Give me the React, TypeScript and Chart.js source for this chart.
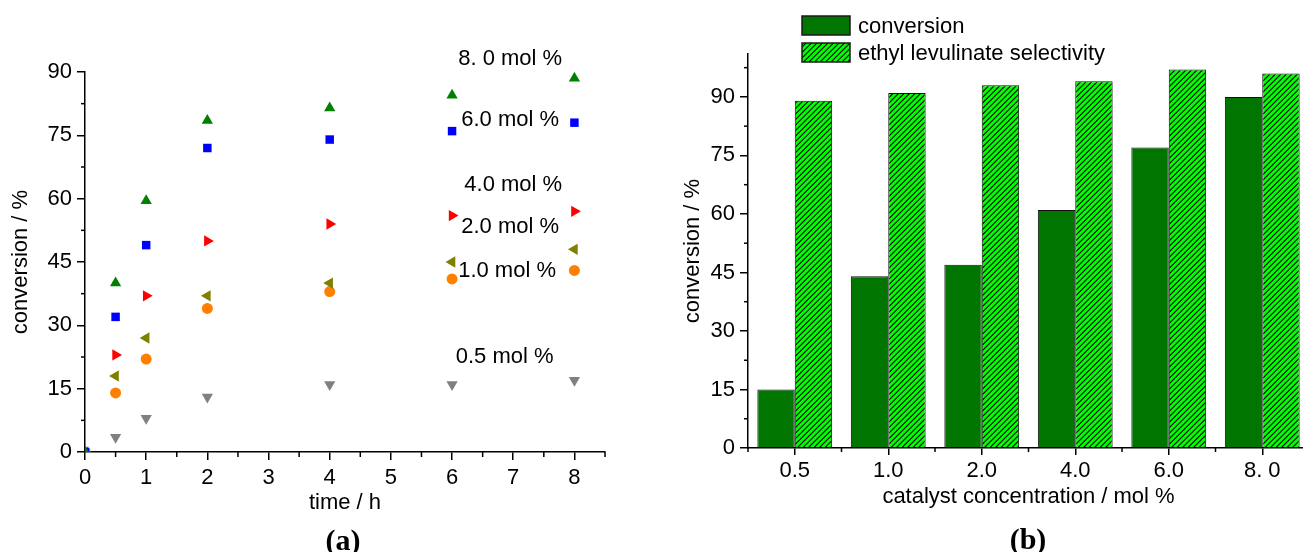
import React, { useEffect, useRef } from 'react';
import { Chart, registerables } from 'chart.js';

Chart.register(...registerables);

// ---------- data ----------
const timeHours = [0, 0.5, 1, 2, 4, 6, 8];
const conv80 = [0, 40, 59.5, 78.5, 81.5, 84.5, 88.5];
const conv60 = [0, 32, 49, 72, 74, 76, 78];
const conv40 = [0, 23, 37, 50, 54, 56, 57];
const conv20 = [0, 18, 27, 37, 40, 45, 48];
const conv10 = [0, 14, 22, 34, 38, 41, 43];
const conv05 = [0, 3.5, 8, 13, 16, 16, 17];
const seriesLabels = ['8. 0 mol %', '6.0 mol %', '4.0 mol %', '2.0 mol %', '1.0 mol %', '0.5 mol %'];

const catalystLabels = ['0.5', '1.0', '2.0', '4.0', '6.0', '8. 0'];
const conversionValues = [15, 44, 47, 61, 77, 90];
const selectivityValues = [89, 91, 93, 94, 97, 96];
const barLegendLabels = ['conversion', 'ethyl levulinate selectivity'];

const FONT = '"Liberation Sans", Arial, Helvetica, sans-serif';
const SERIF = '"Liberation Serif", "Times New Roman", serif';

function range(start: number, end: number, step: number): number[] {
  const out: number[] = [];
  for (let v = start; v <= end + 1e-9; v += step) out.push(Math.round(v * 1000) / 1000);
  return out;
}

// minor tick marks drawn through the scales
const minorTicksPlugin = {
  id: 'minorTicks',
  afterDraw(chart: any, _args: any, opts: any) {
    const ctx = chart.ctx;
    ctx.save();
    ctx.strokeStyle = '#000';
    ctx.lineWidth = 1.5;
    (opts.axes || []).forEach((a: any) => {
      const scale = chart.scales[a.id];
      if (!scale) return;
      a.values.forEach((v: number) => {
        const p = scale.getPixelForValue(v);
        ctx.beginPath();
        if (scale.isHorizontal()) {
          ctx.moveTo(p, scale.top);
          ctx.lineTo(p, scale.top + a.length);
        } else {
          ctx.moveTo(scale.right, p);
          ctx.lineTo(scale.right - a.length, p);
        }
        ctx.stroke();
      });
    });
    ctx.restore();
  },
};

// series labels placed at data coordinates
const seriesTagsPlugin = {
  id: 'seriesTags',
  afterDraw(chart: any, _args: any, opts: any) {
    const ctx = chart.ctx;
    const xs = chart.scales.x;
    const ys = chart.scales.y;
    ctx.save();
    ctx.font = `22px ${FONT}`;
    ctx.fillStyle = '#000';
    ctx.textAlign = 'left';
    ctx.textBaseline = 'middle';
    (opts.tags || []).forEach((t: any) => {
      ctx.fillText(t.text, xs.getPixelForValue(t.x), ys.getPixelForValue(t.y));
    });
    ctx.restore();
  },
};

// custom legend for the bar chart
const barLegendPlugin = {
  id: 'barLegend',
  afterDraw(chart: any, _args: any, opts: any) {
    if (!opts || !opts.display) return;
    const ctx = chart.ctx;
    ctx.save();
    chart.data.datasets.forEach((ds: any, i: number) => {
      const top = opts.top + i * opts.rowGap;
      ctx.fillStyle = ds.backgroundColor;
      ctx.fillRect(opts.left, top, opts.boxWidth, opts.boxHeight);
      ctx.strokeStyle = '#1a1a1a';
      ctx.lineWidth = 1.5;
      ctx.strokeRect(opts.left, top, opts.boxWidth, opts.boxHeight);
      ctx.fillStyle = '#000';
      ctx.font = `22px ${FONT}`;
      ctx.textAlign = 'left';
      ctx.textBaseline = 'middle';
      ctx.fillText(ds.label, opts.left + opts.boxWidth + 8, top + opts.boxHeight / 2 + 1);
    });
    ctx.restore();
  },
};

function makeHatch(): CanvasPattern | string {
  const size = 11;
  const c = document.createElement('canvas');
  c.width = size;
  c.height = size;
  const g = c.getContext('2d');
  if (!g) return '#00ff00';
  g.fillStyle = '#00ff00';
  g.fillRect(0, 0, size, size);
  g.strokeStyle = '#000';
  g.lineWidth = 1.1;
  g.beginPath();
  [0, 5.5, 11, 16.5, 22].forEach((k) => {
    g.moveTo(k + 1, -1);
    g.lineTo(k - size - 1, size + 1);
  });
  g.stroke();
  const p = g.createPattern(c, 'repeat');
  return p || '#00ff00';
}

const axisFont = { family: FONT, size: 22 };

function ScatterChart() {
  const ref = useRef<HTMLCanvasElement | null>(null);
  useEffect(() => {
    if (!ref.current) return;
    const mk = (vals: number[]) => timeHours.map((t, i) => ({ x: t, y: vals[i] }));
    const common = { showLine: false, borderWidth: 0, clip: 0, pointHoverRadius: 6 };
    const chart = new Chart(ref.current, {
      type: 'scatter',
      data: {
        datasets: [
          { ...common, label: seriesLabels[0], data: mk(conv80), pointStyle: 'triangle', pointRotation: 0, pointRadius: 6.5, backgroundColor: '#008000', borderColor: '#008000' },
          { ...common, label: seriesLabels[1], data: mk(conv60), pointStyle: 'rect', pointRadius: 6, backgroundColor: '#0000ff', borderColor: '#0000ff' },
          { ...common, label: seriesLabels[2], data: mk(conv40), pointStyle: 'triangle', pointRotation: 90, pointRadius: 6.5, backgroundColor: '#ff0000', borderColor: '#ff0000' },
          { ...common, label: seriesLabels[3], data: mk(conv20), pointStyle: 'triangle', pointRotation: 270, pointRadius: 6.5, backgroundColor: '#808000', borderColor: '#808000' },
          { ...common, label: seriesLabels[4], data: mk(conv10), pointStyle: 'circle', pointRadius: 5.5, backgroundColor: '#ff8000', borderColor: '#ff8000' },
          { ...common, label: seriesLabels[5], data: mk(conv05), pointStyle: 'triangle', pointRotation: 180, pointRadius: 6.5, backgroundColor: '#808080', borderColor: '#808080' },
        ] as any,
      },
      options: {
        animation: false,
        responsive: false,
        devicePixelRatio: 1,
        layout: { padding: { left: 0, right: 35, top: 72, bottom: 0 } },
        plugins: {
          legend: { display: false },
          tooltip: { enabled: false },
          minorTicks: {
            axes: [
              { id: 'x', values: range(0.5, 8.5, 1), length: 5 },
              { id: 'y', values: range(7.5, 82.5, 15), length: 4 },
            ],
          },
          seriesTags: {
            tags: [
              { text: seriesLabels[0], x: 6.1, y: 93 },
              { text: seriesLabels[1], x: 6.15, y: 78.6 },
              { text: seriesLabels[2], x: 6.2, y: 63.2 },
              { text: seriesLabels[3], x: 6.15, y: 53.3 },
              { text: seriesLabels[4], x: 6.1, y: 42.9 },
              { text: seriesLabels[5], x: 6.06, y: 22.5 },
            ],
          },
        } as any,
        scales: {
          x: {
            type: 'linear',
            min: 0,
            max: 8.5,
            afterFit: (s: any) => { s.height = 100; },
            afterBuildTicks: (s: any) => { s.ticks = s.ticks.filter((t: any) => Number.isInteger(t.value)); },
            ticks: { stepSize: 1, includeBounds: false, font: axisFont, color: '#000', padding: 5, maxRotation: 0 },
            grid: { display: true, drawOnChartArea: false, drawTicks: true, tickLength: 8, color: '#000', tickColor: '#000', lineWidth: 1.5 },
            border: { display: true, color: '#000', width: 1.5 },
            title: { display: true, text: 'time / h', font: axisFont, color: '#000', padding: { top: 0, bottom: 36 } },
          },
          y: {
            type: 'linear',
            min: 0,
            max: 90,
            afterFit: (s: any) => { s.width = 85; },
            ticks: { stepSize: 15, font: axisFont, color: '#000', padding: 5 },
            grid: { display: true, drawOnChartArea: false, drawTicks: true, tickLength: 8, color: '#000', tickColor: '#000', lineWidth: 1.5 },
            border: { display: true, color: '#000', width: 1.5 },
            title: { display: true, text: 'conversion / %', font: axisFont, color: '#000', padding: { top: 8, bottom: 0 } },
          },
        } as any,
      },
      plugins: [minorTicksPlugin, seriesTagsPlugin],
    } as any);
    return () => chart.destroy();
  }, []);
  return <canvas ref={ref} width={640} height={552} style={{ position: 'absolute', left: 0, top: 0 }} />;
}

function BarChart() {
  const ref = useRef<HTMLCanvasElement | null>(null);
  useEffect(() => {
    if (!ref.current) return;
    const hatch = makeHatch();
    const chart = new Chart(ref.current, {
      type: 'bar',
      data: {
        labels: catalystLabels,
        datasets: [
          { label: barLegendLabels[0], data: conversionValues, backgroundColor: '#007600', borderColor: '#111', borderWidth: 1, categoryPercentage: 0.8, barPercentage: 1.0 },
          { label: barLegendLabels[1], data: selectivityValues, backgroundColor: hatch, borderColor: '#111', borderWidth: 1, categoryPercentage: 0.8, barPercentage: 1.0 },
        ] as any,
      },
      options: {
        animation: false,
        responsive: false,
        devicePixelRatio: 1,
        layout: { padding: { left: 0, right: 11, top: 54, bottom: 0 } },
        plugins: {
          legend: { display: false },
          tooltip: { enabled: false },
          minorTicks: {
            axes: [
              { id: 'x', values: range(-0.5, 5.5, 1), length: 4 },
              { id: 'y', values: range(7.5, 97.5, 15), length: 4 },
            ],
          },
          barLegend: { display: true, left: 162, top: 16, rowGap: 27, boxWidth: 48, boxHeight: 19 },
        } as any,
        scales: {
          x: {
            type: 'category',
            offset: true,
            afterFit: (s: any) => { s.height = 104; },
            ticks: { font: axisFont, color: '#000', padding: 3, maxRotation: 0 },
            grid: { display: true, offset: false, drawOnChartArea: false, drawTicks: true, tickLength: 7, color: '#000', tickColor: '#000', lineWidth: 1.5 },
            border: { display: true, color: '#000', width: 1.5 },
            title: { display: true, text: 'catalyst concentration / mol %', font: axisFont, color: '#000', padding: { top: 0, bottom: 42 } },
          },
          y: {
            type: 'linear',
            min: 0,
            max: 101,
            afterFit: (s: any) => { s.width = 108; },
            ticks: { stepSize: 15, includeBounds: false, font: axisFont, color: '#000', padding: 5 },
            grid: { display: true, drawOnChartArea: false, drawTicks: true, tickLength: 8, color: '#000', tickColor: '#000', lineWidth: 1.5 },
            border: { display: true, color: '#000', width: 1.5 },
            title: { display: true, text: 'conversion / %', font: axisFont, color: '#000', padding: { top: 40, bottom: 0 } },
          },
        } as any,
      },
      plugins: [minorTicksPlugin, barLegendPlugin],
    } as any);
    return () => chart.destroy();
  }, []);
  return <canvas ref={ref} width={680} height={552} style={{ position: 'absolute', left: 640, top: 0 }} />;
}

const panelLabel: React.CSSProperties = {
  position: 'absolute',
  fontFamily: SERIF,
  fontWeight: 'bold',
  fontSize: 30,
  lineHeight: '30px',
  transform: 'translate(-50%, -50%)',
  color: '#000',
  whiteSpace: 'nowrap',
};

export default function App() {
  return (
    <div style={{ position: 'fixed', left: 0, top: 0, width: 1303, height: 552, overflow: 'hidden', background: '#fff' }}>
      <ScatterChart />
      <BarChart />
      <div style={{ ...panelLabel, left: 343, top: 540 }}>(a)</div>
      <div style={{ ...panelLabel, left: 1028, top: 539 }}>(b)</div>
    </div>
  );
}
